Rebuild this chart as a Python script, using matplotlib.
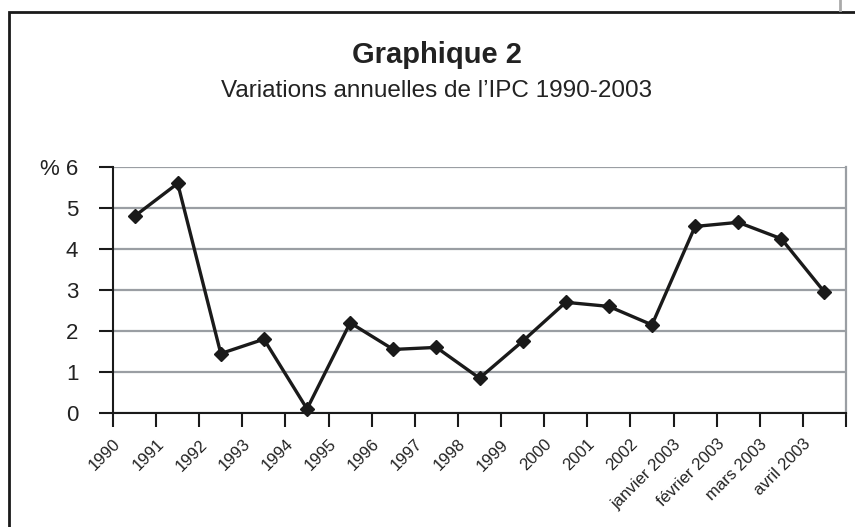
import matplotlib
matplotlib.use('Agg')
import matplotlib.pyplot as plt
import matplotlib.transforms as mtransforms
from matplotlib.patches import Rectangle
from matplotlib.lines import Line2D

plt.rcParams['font.family'] = ['Liberation Sans', 'DejaVu Sans']

# donnees
categories = ['1990', '1991', '1992', '1993', '1994', '1995', '1996', '1997',
              '1998', '1999', '2000', '2001', '2002', 'janvier 2003',
              'février 2003', 'mars 2003', 'avril 2003']
ipc = [4.8, 5.6, 1.45, 1.8, 0.1, 2.2, 1.55, 1.6, 0.85, 1.75, 2.7, 2.6,
       2.15, 4.55, 4.65, 4.25, 2.95]
y_ticks = [0, 1, 2, 3, 4, 5, 6]
y_labels = ['0', '1', '2', '3', '4', '5', '% 6']

fig = plt.figure(figsize=(8.55, 5.27), dpi=100)
ax = fig.add_axes([113/855, 1-413/527, (846-113)/855, (413-167)/527])

n = len(categories)
xs = [i + 0.5 for i in range(n)]
ax.plot(xs, ipc, color='#1a1a1a', lw=2.4, marker='D', ms=7.5, zorder=3,
        clip_on=False)

ax.set_xlim(0, n)
ax.set_ylim(0, 6)
ax.set_yticks(y_ticks)
ax.set_yticklabels(y_labels, fontsize=16, color='#222222')
ax.set_xticks(range(n + 1))
ax.set_xticklabels(categories + [''], rotation=45, ha='right', va='top',
                   rotation_mode='anchor', fontsize=12, color='#222222')
off = mtransforms.ScaledTranslation(5/100, 0, fig.dpi_scale_trans)
for lab in ax.get_xticklabels():
    lab.set_transform(lab.get_transform() + off)

ax.tick_params(axis='y', length=10, width=1.5, pad=15, color='#1a1a1a')
ax.tick_params(axis='x', length=10, width=1.5, pad=7, color='#1a1a1a')

ax.grid(axis='y', color='#9a9ea3', lw=1.6, zorder=1)
ax.set_axisbelow(True)
ax.spines['top'].set_visible(False)
ax.spines['right'].set_color('#9a9ea3')
ax.spines['right'].set_linewidth(1.6)
ax.spines['left'].set_color('#1a1a1a')
ax.spines['left'].set_linewidth(1.5)
ax.spines['bottom'].set_color('#1a1a1a')
ax.spines['bottom'].set_linewidth(1.5)

fig.text(437/855, 1-63/527, 'Graphique 2', ha='center', va='baseline',
         fontsize=21, fontweight='bold', color='#222222')
fig.text(437/855, 1-97/527, 'Variations annuelles de l\u2019IPC 1990-2003',
         ha='center', va='baseline', fontsize=17.5, color='#222222')

# cadre
fig.patches.append(Rectangle((9/855, -0.1), 1.0, 1-12/527 + 0.1,
                             transform=fig.transFigure, fill=False,
                             ec='#1a1a1a', lw=2.0))
fig.lines.append(Line2D([840/855, 840/855], [1-10/527, 1.0],
                        transform=fig.transFigure, color='#aaaaaa', lw=2))

fig.savefig('out.png', dpi=100)
